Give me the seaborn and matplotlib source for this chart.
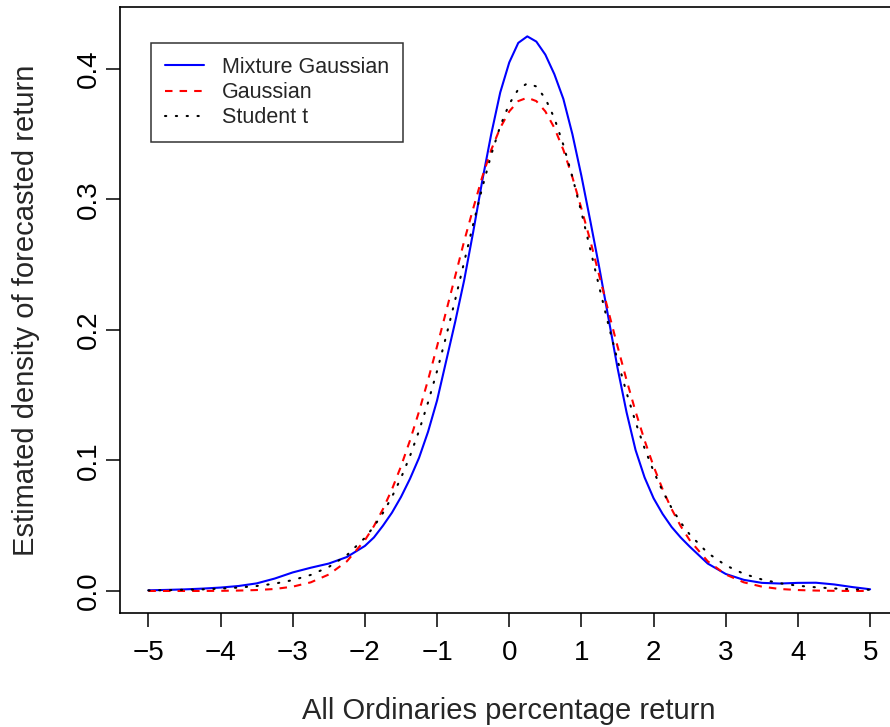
import numpy as np
import pandas as pd
import matplotlib
matplotlib.use("Agg")
import matplotlib.pyplot as plt
import seaborn as sns

x_return = np.concatenate([np.arange(-5, -2.2, 0.25),
                           np.arange(-2, 2.51, 0.125),
                           np.arange(2.75, 5.01, 0.25)])

mixture_gaussian = [0.0005, 0.0008, 0.0012, 0.0018, 0.0026, 0.0038, 0.0058, 0.0095, 0.0142,
                    0.0178, 0.0210, 0.0260,
                    0.0345, 0.0410, 0.0500, 0.0600, 0.0720, 0.0860, 0.1020, 0.1220, 0.1460,
                    0.1760, 0.2060, 0.2380, 0.2750, 0.3140, 0.3500, 0.3820, 0.4050, 0.4200,
                    0.4250, 0.4210, 0.4110, 0.3960, 0.3770, 0.3500, 0.3180, 0.2830, 0.2470,
                    0.2090, 0.1710, 0.1370, 0.1080, 0.0870, 0.0710, 0.0590, 0.0490, 0.0410,
                    0.0340,
                    0.0210, 0.0130, 0.0085, 0.0062, 0.0057, 0.0062, 0.0063, 0.0050, 0.0030,
                    0.0013]

gaussian = [0.0000, 0.0000, 0.0000, 0.0000, 0.0001, 0.0003, 0.0007, 0.0015, 0.0033,
            0.0066, 0.0126, 0.0227,
            0.0389, 0.0497, 0.0627, 0.0779, 0.0955, 0.1154, 0.1375, 0.1617, 0.1875,
            0.2141, 0.2410, 0.2680, 0.2930, 0.3171, 0.3380, 0.3549, 0.3675, 0.3754,
            0.3780, 0.3754, 0.3675, 0.3549, 0.3380, 0.3171, 0.2930, 0.2680, 0.2410,
            0.2141, 0.1875, 0.1617, 0.1375, 0.1154, 0.0955, 0.0779, 0.0627, 0.0497,
            0.0389,
            0.0227, 0.0126, 0.0066, 0.0033, 0.0015, 0.0007, 0.0003, 0.0001, 0.0000,
            0.0000]

student_t = [0.0004, 0.0006, 0.0009, 0.0012, 0.0018, 0.0026, 0.0038, 0.0056, 0.0083,
             0.0123, 0.0184, 0.0274,
             0.0407, 0.0494, 0.0598, 0.0721, 0.0866, 0.1034, 0.1227, 0.1445, 0.1686,
             0.1950, 0.2229, 0.2520, 0.2809, 0.3088, 0.3343, 0.3562, 0.3732, 0.3844,
             0.3890, 0.3866, 0.3774, 0.3623, 0.3418, 0.3173, 0.2901, 0.2613, 0.2322,
             0.2038, 0.1769, 0.1520, 0.1294, 0.1093, 0.0917, 0.0765, 0.0635, 0.0525,
             0.0433,
             0.0291, 0.0196, 0.0131, 0.0088, 0.0059, 0.0040, 0.0028, 0.0019, 0.0013,
             0.0009]

labels = ["Mixture Gaussian", "Gaussian", "Student t"]

df = pd.DataFrame({"x": x_return, labels[0]: mixture_gaussian,
                   labels[1]: gaussian, labels[2]: student_t})

sns.set_style("ticks")
plt.rcParams["font.family"] = ["Liberation Sans", "DejaVu Sans"]

W, H = 890, 727
fig = plt.figure(figsize=(W / 100, H / 100), dpi=100)
# plot box in pixels: left 119.5, right ~899 (cut off by the image), top 7, bottom 613.4
ax_l, ax_r, ax_t, ax_b = 119.5, 899.0, 7.0, 613.4
ax = fig.add_axes([ax_l / W, 1 - ax_b / H, (ax_r - ax_l) / W, (ax_b - ax_t) / H])

lw = 1.5
sns.lineplot(data=df, x="x", y=labels[0], ax=ax, color="#0000FF", lw=lw, label=labels[0])
sns.lineplot(data=df, x="x", y=labels[1], ax=ax, color="#FF0000", lw=lw, label=labels[1])
sns.lineplot(data=df, x="x", y=labels[2], ax=ax, color="black", lw=lw, label=labels[2])
lines = ax.get_lines()
lines[1].set_dashes((3.6, 3.4))
lines[2].set_dashes((0.6, 4.6))
lines[2].set_dash_capstyle("round")

ax.set_xlim(-5.4, 5.4)
ax.set_ylim(-0.0172, 0.4475)
ax.set_xticks(range(-5, 6))
ax.set_yticks([0.0, 0.1, 0.2, 0.3, 0.4])
ax.set_yticklabels(["0.0", "0.1", "0.2", "0.3", "0.4"], rotation=90, va="center")
ax.tick_params(axis="both", direction="out", length=10, width=1.1, labelsize=20,
               color="black", labelcolor="black")
ax.tick_params(axis="x", pad=9)
ax.tick_params(axis="y", pad=3)

for s in ax.spines.values():
    s.set_visible(True)
    s.set_color("black")
    s.set_linewidth(1.2)

ax.set_xlabel("All Ordinaries percentage return", fontsize=21)
ax.set_ylabel("Estimated density of forecasted return", fontsize=21)
ax.xaxis.set_label_coords(0.5, (ax_b - 711) / (ax_b - ax_t))
ax.xaxis.label.set_va("center")
ax.yaxis.set_label_coords((26 - ax_l) / (ax_r - ax_l), 0.5)
ax.yaxis.label.set_va("center")

leg = ax.legend(loc="upper left", bbox_to_anchor=(151 / W, 1 - 43 / H),
                bbox_transform=fig.transFigure, fontsize=15.5, frameon=True,
                fancybox=False, borderaxespad=0, handlelength=1.8,
                handletextpad=0.85, borderpad=0.65, labelspacing=0.19)
leg.get_frame().set_edgecolor("black")
leg.get_frame().set_linewidth(1.1)

fig.savefig("out.png", dpi=100)
